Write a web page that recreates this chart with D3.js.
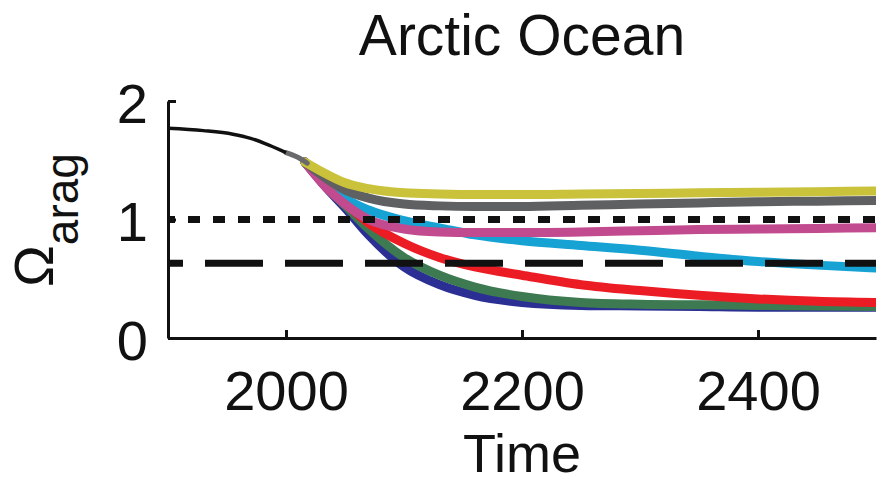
<!DOCTYPE html>
<meta charset="utf-8">

<!-- Import D3.js -->
<script src="https://d3js.org/d3.v7.min.js"></script>

<style>
  body { margin: 0; background: #fff; }
  text { font-family: "Liberation Sans", Arial, Helvetica, sans-serif; fill: #111; }
</style>

<body>
<script>
// Historical record (black) and the short recent segment (grey)
var histYears = [1900, 1930, 1955, 1970, 1985, 2000];
var histValues = [1.77, 1.75, 1.72, 1.685, 1.63, 1.565];
var recentYears = [2000, 2010, 2018];
var recentValues = [1.565, 1.525, 1.475];

// Scenario years, shared by all projections
var years = [2016, 2035, 2050, 2070, 2100, 2130, 2160, 2200, 2250, 2300, 2350, 2400, 2450, 2500];

// Projection values per scenario
var blueValues   = [1.485, 1.26, 1.10, 0.87, 0.60, 0.45, 0.36, 0.30, 0.275, 0.27, 0.265, 0.26, 0.26, 0.26];
var greenValues  = [1.485, 1.27, 1.12, 0.92, 0.68, 0.53, 0.43, 0.35, 0.30, 0.285, 0.28, 0.275, 0.27, 0.265];
var redValues    = [1.485, 1.28, 1.14, 0.97, 0.80, 0.68, 0.60, 0.53, 0.45, 0.40, 0.36, 0.33, 0.31, 0.30];
var cyanValues   = [1.485, 1.30, 1.18, 1.08, 0.99, 0.93, 0.87, 0.82, 0.78, 0.74, 0.69, 0.645, 0.615, 0.59];
var pinkValues   = [1.485, 1.26, 1.13, 1.00, 0.92, 0.895, 0.89, 0.89, 0.895, 0.905, 0.915, 0.92, 0.925, 0.93];
var greyValues   = [1.485, 1.34, 1.25, 1.18, 1.13, 1.115, 1.11, 1.11, 1.12, 1.13, 1.14, 1.15, 1.155, 1.16];
var yellowValues = [1.485, 1.38, 1.31, 1.26, 1.225, 1.215, 1.21, 1.21, 1.215, 1.22, 1.225, 1.23, 1.235, 1.24];

// Threshold lines
var dottedLevel = 1.0;
var dashedLevel = 0.63;

// Tick labels
var xTicks = [2000, 2200, 2400];
var yTicks = [0, 1, 2];

var width = 877, height = 484;
var margin = {top: 101, right: 1, bottom: 146, left: 168};

var svg = d3.select("body")
  .append("svg")
  .attr("width", width)
  .attr("height", height);

var x = d3.scaleLinear().domain([1900, 2500]).range([margin.left, width - margin.right]);
var y = d3.scaleLinear().domain([0, 2]).range([height - margin.bottom, margin.top]);

var line = d3.line()
  .x(function(d) { return x(d[0]); })
  .y(function(d) { return y(d[1]); })
  .curve(d3.curveMonotoneX);

function pairs(xs, vs) {
  return xs.map(function(d, i) { return [d, vs[i]]; });
}

// Clip so the thick lines stop at the plot's right edge
svg.append("clipPath").attr("id", "plot")
  .append("rect")
  .attr("x", 0).attr("y", 0)
  .attr("width", x(2500)).attr("height", height);

var plot = svg.append("g").attr("clip-path", "url(#plot)");

// Projections, drawn bottom to top
var series = [
  {values: blueValues, color: "#2b2f93"},
  {values: greenValues, color: "#3d7a52"},
  {values: redValues, color: "#ec1c24"},
  {values: cyanValues, color: "#17a2d4"},
  {values: pinkValues, color: "#c24a8f"},
  {values: greyValues, color: "#5f6062"},
  {values: yellowValues, color: "#c9c23a"}
];

plot.selectAll(".scenario")
  .data(series)
  .enter()
  .append("path")
  .attr("class", "scenario")
  .attr("fill", "none")
  .attr("stroke", function(d) { return d.color; })
  .attr("stroke-width", 9)
  .attr("stroke-linecap", "round")
  .attr("d", function(d) { return line(pairs(years, d.values)); });

// Recent grey piece and the historical black line
plot.append("path")
  .attr("fill", "none")
  .attr("stroke", "#6a6a6c")
  .attr("stroke-width", 5)
  .attr("stroke-linecap", "round")
  .attr("d", line(pairs(recentYears, recentValues)));

plot.append("path")
  .attr("fill", "none")
  .attr("stroke", "#111")
  .attr("stroke-width", 3.5)
  .attr("d", line(pairs(histYears, histValues)));

// Threshold lines
plot.append("line")
  .attr("x1", x(1900)).attr("x2", x(2500))
  .attr("y1", y(dottedLevel)).attr("y2", y(dottedLevel))
  .attr("stroke", "#111")
  .attr("stroke-width", 7)
  .attr("stroke-dasharray", "12,13")
  .attr("stroke-dashoffset", 5);

plot.append("line")
  .attr("x1", x(1900)).attr("x2", x(2500))
  .attr("y1", y(dashedLevel)).attr("y2", y(dashedLevel))
  .attr("stroke", "#111")
  .attr("stroke-width", 7)
  .attr("stroke-dasharray", "58,22")
  .attr("stroke-dashoffset", 43);

// Axes
var xAxis = svg.append("g")
  .attr("transform", "translate(0," + y(0) + ")")
  .call(d3.axisBottom(x).tickValues(xTicks).tickFormat(d3.format("d"))
    .tickSizeInner(-8).tickSizeOuter(0).tickPadding(32));

var yAxis = svg.append("g")
  .attr("transform", "translate(" + x(1900) + ",0)")
  .call(d3.axisLeft(y).tickValues(yTicks).tickFormat(d3.format("d"))
    .tickSizeInner(-8).tickSizeOuter(0).tickPadding(20));

[xAxis, yAxis].forEach(function(g) {
  g.select(".domain").attr("stroke", "#111").attr("stroke-width", 3);
  g.selectAll(".tick line").attr("stroke", "#111").attr("stroke-width", 3);
  g.selectAll(".tick text")
    .attr("font-size", 56)
    .attr("fill", "#111")
    .style("font-family", "'Liberation Sans', Arial, sans-serif");
});
yAxis.selectAll(".tick text").attr("dy", "0.38em");

// Title
svg.append("text")
  .attr("x", (x(1900) + x(2500)) / 2)
  .attr("y", 55)
  .attr("text-anchor", "middle")
  .attr("font-size", 57)
  .text("Arctic Ocean");

// X label
svg.append("text")
  .attr("x", (x(1900) + x(2500)) / 2)
  .attr("y", 472)
  .attr("text-anchor", "middle")
  .attr("font-size", 54)
  .text("Time");

// Y label with subscript
var yLabel = svg.append("text")
  .attr("transform", "rotate(-90)")
  .attr("x", -287)
  .attr("y", 53)
  .attr("font-size", 56);
yLabel.append("tspan").text("Ω");
yLabel.append("tspan").attr("dy", 25).attr("font-size", 46).text("arag");

</script>
</body>
</html>
